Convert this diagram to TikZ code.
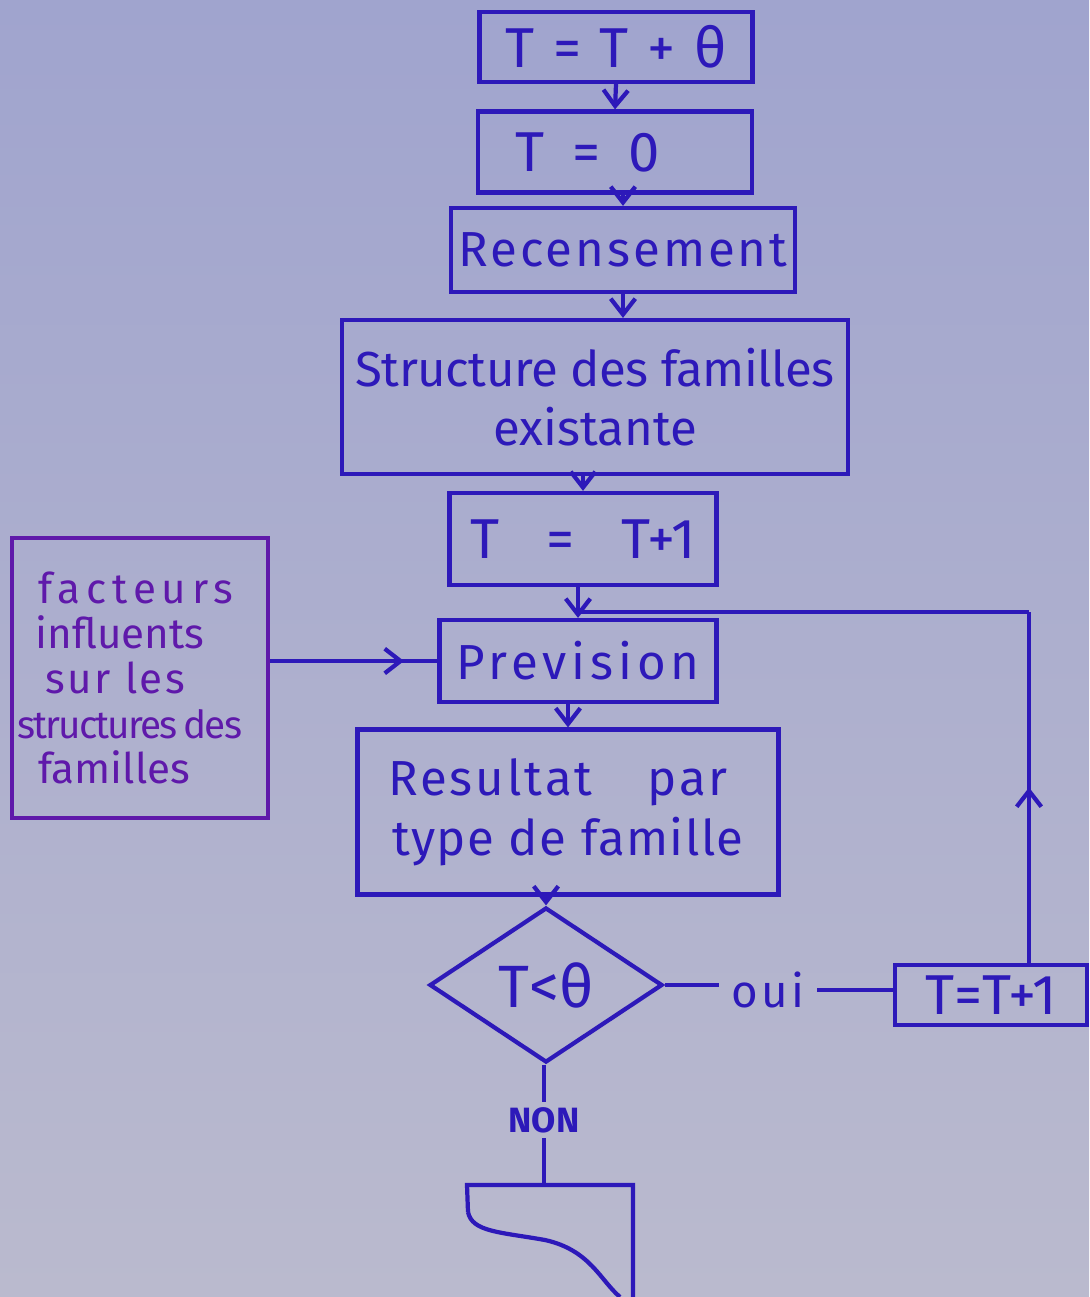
\documentclass[tikz,border=0pt]{standalone}
\usepackage{fontspec}
\setmainfont{Fira Sans}
\usetikzlibrary{shapes.geometric,arrows.meta,decorations.markings}
\definecolor{ink}{RGB}{45,25,185}
\definecolor{inkp}{RGB}{95,25,170}
\definecolor{papertop}{RGB}{160,164,206}
\definecolor{paperbot}{RGB}{186,186,206}
\tikzset{midarrow/.style={postaction={decorate},
  decoration={markings, mark=at position #1 with {\arrow{>}}}}}
\newcommand{\spaced}[2]{{\addfontfeature{LetterSpace=#1}#2}}
\begin{document}
\begin{tikzpicture}[x=0.02cm, y=-0.02cm, color=ink, line width=2.4pt,
  >={Straight Barb[length=9pt,width=14pt]}]
	\tikzstyle{block} = [rectangle,draw,line width=2.4pt,inner sep=0pt,font=\fontsize{28}{34}\selectfont]
	\tikzstyle{big} = [font=\fontsize{32}{38}\selectfont]
	% paper
	\shade[top color=papertop, bottom color=paperbot] (0,0) rectangle (1089,1297);
	\useasboundingbox (0,0) rectangle (1089,1297);
	% main column
	\node[block,big,minimum width=5.46cm,minimum height=1.40cm](tplus)at(616,47){T\,\,=\,\,T\,\,+\,\,θ};
	\node[block,big,minimum width=5.48cm,minimum height=1.62cm](tnull)at(615,152){T\,\,\,=\,\,\,0\hspace*{1.1cm}};
	\node[block,minimum width=6.88cm,minimum height=1.68cm](recens)at(623,250){\spaced{6}{Recensement}};
	\node[block,minimum width=10.12cm,minimum height=3.08cm,align=center](struct)at(595,397){\spaced{-1}{Structure des familles}\\existante};
	\node[block,big,minimum width=5.34cm,minimum height=1.84cm](tinc)at(583,539){T\,\,\,\,\,=\,\,\,\,\,T+1};
	\node[block,minimum width=5.54cm,minimum height=1.64cm](prev)at(578,661){\spaced{10}{Prevision}};
	\node[block,minimum width=8.42cm,minimum height=3.30cm,align=center](result)at(568,812){\spaced{6}{Resultat}\hspace{1.1cm}\spaced{6}{par}\hspace*{0.4cm}\\\spaced{3}{type de famille}};
	\node[block,shape=diamond,minimum width=4.66cm,minimum height=3.10cm,font=\fontsize{34}{40}\selectfont](test)at(546,985){T<θ};
	\node[block,minimum width=3.84cm,minimum height=1.20cm,font=\fontsize{32}{38}\selectfont](tloop)at(991,995){T=T+1};
	% side box
	\node[block,draw=inkp,text=inkp,minimum width=5.12cm,minimum height=5.6cm,align=left,text width=4.9cm,
	  font=\fontsize{24}{25.6}\selectfont](fact)at(140,678){\hspace*{0.42cm}\spaced{14}{facteurs}\\\hspace*{0.36cm}influents\\\hspace*{0.56cm}\spaced{6}{sur les}\\{\fontsize{22}{25.6}\selectfont\spaced{-5}{structures\,des}}\\\hspace*{0.42cm}familles};
	% labels
	\node[inner sep=6pt,font=\fontsize{26}{30}\selectfont](oui)at(768,990){\spaced{8}{oui}};
	\node[inner sep=2pt,font=\fontsize{20}{24}\selectfont\bfseries](non)at(544,1120){NON};
	\coordinate (loopc) at (1029,612);
	\coordinate (stop) at (544,1185);
	% connectors
	\path[->] (tplus.south) edge (tnull.north)
	(tnull.south -| recens.north) edge (recens.north)
	(recens.south) edge (recens.south |- struct.north)
	(struct.south -| tinc.north) edge (tinc.north)
	(tinc.south -| prev.north) edge (prev.north)
	(prev.south -| result.north) edge (result.north)
	(result.south -| test.north) edge (test.north);
	\draw[midarrow=0.8] (fact.east |- prev.west) -- (prev.west);
	\draw (test.east) -- (test.east -| oui.west);
	\draw (oui.east) -- (oui.east -| tloop.west);
	\draw[midarrow=0.5] (tloop.north -| loopc) -- (loopc);
	\draw (loopc) -- (loopc -| prev.north);
	\draw (non.north |- test.south) -- (non.north);
	\draw (non.south) -- (stop);
	% end of run
	\draw (468,1212) -- (467,1185) -- (stop) -- (633,1185) -- (633,1297);
	\draw (468,1212) .. controls (472,1232) and (500,1232) .. (545,1240)
	  .. controls (590,1250) and (600,1280) .. (620,1297);
\end{tikzpicture}
\end{document}
